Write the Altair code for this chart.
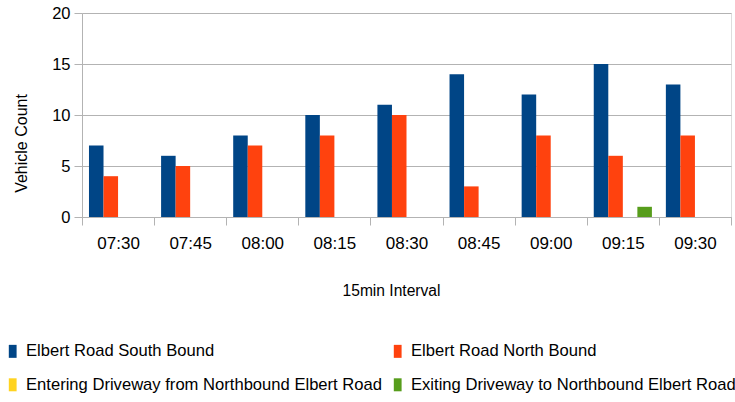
import altair as alt
import pandas as pd

intervals = ["07:30", "07:45", "08:00", "08:15", "08:30", "08:45", "09:00", "09:15", "09:30"]
series = [
    "Elbert Road South Bound",
    "Elbert Road North Bound",
    "Entering Driveway from Northbound Elbert Road",
    "Exiting Driveway to Northbound Elbert Road",
]
south = [7, 6, 8, 10, 11, 14, 12, 15, 13]
north = [4, 5, 7, 8, 10, 3, 8, 6, 8]
entering = [0, 0, 0, 0, 0, 0, 0, 0, 0]
exiting = [0, 0, 0, 0, 0, 0, 0, 1, 0]
colors = ["#004586", "#ff420e", "#ffd320", "#579d1c"]

rows = []
for name, vals in zip(series, [south, north, entering, exiting]):
    for t, v in zip(intervals, vals):
        rows.append({"Interval": t, "Series": name, "Count": v})
df = pd.DataFrame(rows)

grey = "#b3b3b3"
font = "Liberation Sans"

chart = alt.Chart(df).mark_bar().encode(
    x=alt.X("Interval:N", sort=intervals,
            scale=alt.Scale(paddingInner=0, paddingOuter=0),
            axis=alt.Axis(title="15min Interval", labelAngle=0, tickBand="extent",
                          labelFontSize=17, titleFontSize=15.6, labelPadding=10,
                          titleX=309, titleY=73, titleBaseline="middle",
                          tickSize=8, domainColor=grey, tickColor=grey,
                          labelColor="black", titleColor="black", titleFontWeight="normal")),
    xOffset=alt.XOffset("Series:N", sort=series,
                        scale=alt.Scale(paddingInner=0, paddingOuter=0.48)),
    y=alt.Y("Count:Q", scale=alt.Scale(domain=[0, 20]),
            axis=alt.Axis(title="Vehicle Count", values=[0, 5, 10, 15, 20],
                          labelFontSize=16.5, titleFontSize=16, tickSize=8, labelPadding=4,
                          titleX=-61, titleY=130, titleBaseline="middle", titleAngle=270,
                          domainColor=grey, tickColor=grey, gridColor=grey,
                          labelColor="black", titleColor="black", titleFontWeight="normal")),
    color=alt.Color("Series:N", sort=series,
                    scale=alt.Scale(domain=series, range=colors),
                    legend=alt.Legend(title=None, orient="none", legendX=-77.6, legendY=330,
                                      direction="horizontal",
                                      columns=2, symbolType="M-0.6,-1H0.6V1H-0.6Z",
                                      symbolSize=169,
                                      symbolStrokeWidth=0, labelFontSize=16.6,
                                      labelLimit=400, rowPadding=16.5, columnPadding=7,
                                      labelOffset=5, labelColor="black")),
).properties(
    width=649, height=204,
    padding={"left": 82, "top": 13, "right": 4, "bottom": 185},
    autosize=alt.AutoSizeParams(type="none"),
).configure_view(
    stroke=grey
).configure(
    font=font
)

chart.save("out.html", embed_options={"renderer": "svg", "actions": False})
